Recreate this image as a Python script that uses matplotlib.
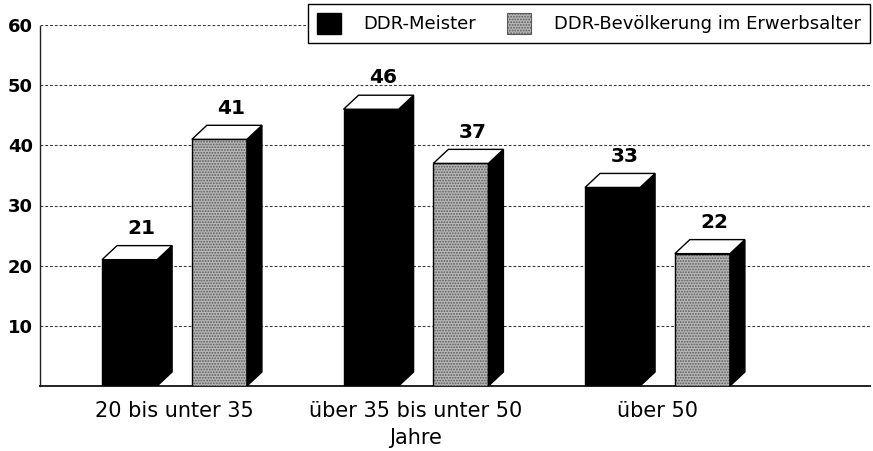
import numpy as np
import matplotlib.pyplot as plt
from matplotlib.patches import Polygon, Patch


categories = ["20 bis unter 35", "über 35 bis unter 50\nJahre", "über 50"]
series_names = ["DDR-Meister", "DDR-Bevölkerung im Erwerbsalter"]
meister = [21, 46, 33]
bevoelkerung = [41, 37, 22]
y_ticks = [10, 20, 30, 40, 50, 60]

BAR_WIDTH = 0.228
OFFSET = 0.186
DEPTH_X = 0.062
DEPTH_Y = 2.33

STIPPLE_FACE = "#b8b8b8"
STIPPLE_DOTS = "#5a5a5a"


def apply_plot_style():
    plt.rcParams.update({
        "font.family": ["DejaVu Sans"],
        "hatch.linewidth": 0.9,
        "axes.linewidth": 1.0,
    })


def draw_3d_bar(ax, x, value, kind):
    x0 = x - BAR_WIDTH / 2
    x1 = x + BAR_WIDTH / 2

    if kind == "black":
        ax.bar(x, value, BAR_WIDTH, color="black", edgecolor="black",
               linewidth=1.0, zorder=3)
    else:
        ax.bar(x, value, BAR_WIDTH, color=STIPPLE_FACE,
               edgecolor=STIPPLE_DOTS, hatch="......", linewidth=0, zorder=3)
        ax.bar(x, value, BAR_WIDTH, fill=False, edgecolor="black",
               linewidth=1.0, zorder=4)

    side = Polygon(
        [(x1, 0), (x1 + DEPTH_X, DEPTH_Y), (x1 + DEPTH_X, value + DEPTH_Y), (x1, value)],
        closed=True, facecolor="black", edgecolor="black", linewidth=1.0, zorder=3,
    )
    top = Polygon(
        [(x0, value), (x1, value), (x1 + DEPTH_X, value + DEPTH_Y), (x0 + DEPTH_X, value + DEPTH_Y)],
        closed=True, facecolor="white", edgecolor="black", linewidth=1.0, zorder=5,
    )
    ax.add_patch(side)
    ax.add_patch(top)

    ax.text(x + DEPTH_X * 0.8, value + 5.2, str(value), ha="center", va="center",
            fontsize=14.5, fontweight="bold", zorder=6)


def plot_chart(filename):
    apply_plot_style()

    fig = plt.figure(figsize=(8.73, 4.51), dpi=100)
    ax = fig.add_axes([40 / 873, 1 - 386 / 451, 830 / 873, 361 / 451])

    x = np.arange(len(categories))

    for i in range(len(categories)):
        draw_3d_bar(ax, x[i] - OFFSET, meister[i], "black")
        draw_3d_bar(ax, x[i] + OFFSET, bevoelkerung[i], "grey")

    ax.set_xlim(-0.557, 2.880)
    ax.set_ylim(0, 60)

    ax.set_yticks(y_ticks)
    ax.set_yticklabels([str(v) for v in y_ticks], fontsize=13, fontweight="bold")
    ax.set_xticks(x)
    ax.set_xticklabels(categories, fontsize=15)
    for label in ax.get_xticklabels():
        label.set_linespacing(1.45)
    ax.tick_params(axis="x", length=0, pad=11)
    ax.tick_params(axis="y", length=0, pad=5)

    ax.set_axisbelow(True)
    ax.yaxis.grid(True, color="#3a3a3a", linewidth=0.8, linestyle=(0, (2.5, 1.8)))

    ax.spines["top"].set_visible(False)
    ax.spines["right"].set_visible(False)
    ax.spines["left"].set_linestyle((0, (4, 1)))
    ax.spines["left"].set_color("#222222")
    ax.spines["bottom"].set_color("#222222")
    ax.spines["bottom"].set_linewidth(1.4)

    handles = [
        Patch(facecolor="black", edgecolor="black"),
        Patch(facecolor=STIPPLE_FACE, edgecolor=STIPPLE_DOTS, hatch="......", linewidth=0.8),
    ]
    legend = ax.legend(
        handles, series_names, ncol=2, loc="upper right",
        bbox_to_anchor=(870 / 873, 1 - 4 / 451), bbox_transform=fig.transFigure,
        borderaxespad=0, fontsize=13, frameon=True, fancybox=False, framealpha=1,
        handlelength=1.35, handleheight=1.4, handletextpad=1.25,
        columnspacing=1.7, borderpad=0.5,
    )
    legend.get_frame().set_edgecolor("black")
    legend.get_frame().set_linewidth(1.0)
    legend.set_zorder(10)

    fig.savefig(filename, dpi=100)
    plt.close(fig)


if __name__ == "__main__":
    plot_chart("out.png")
